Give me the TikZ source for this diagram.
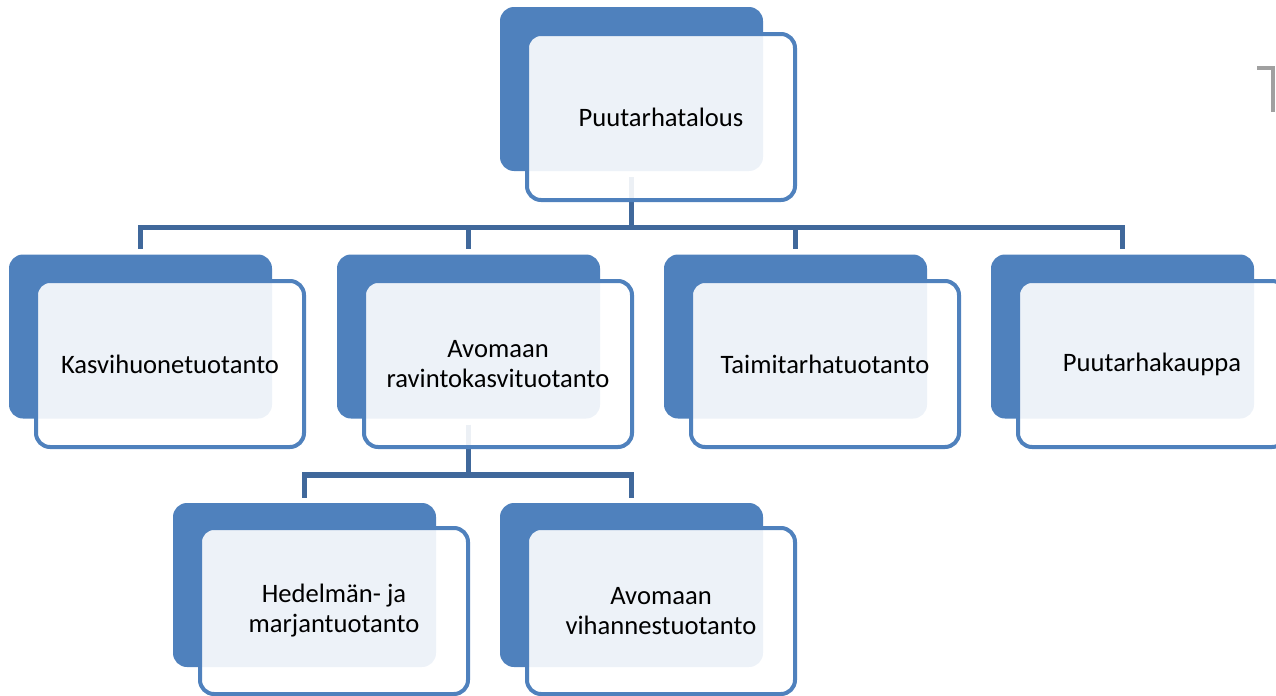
\documentclass[tikz,border=0pt]{standalone}
\usepackage{fontspec}
\setmainfont{Carlito}
\newcommand\orgfont{\fontsize{13.3}{15}\selectfont}
\definecolor{boxblue}{HTML}{4F81BD}
\definecolor{linkblue}{HTML}{40689B}
\definecolor{markgrey}{HTML}{A0A0A0}
\tikzset{
  backbox/.style={fill=boxblue, rounded corners=7pt, inner sep=0pt,
    minimum width=131.5pt, minimum height=82pt},
  frontbox/.style={draw=boxblue, line width=2pt, rounded corners=7pt,
    fill=white, fill opacity=0.9, text opacity=1, align=center,
    minimum width=134pt, minimum height=83pt, font=\orgfont},
  link/.style={draw=linkblue, line width=2.6pt, shorten <=3pt, shorten >=2.5pt}
}
\begin{document}
\begin{tikzpicture}[x=0.5pt, y=-0.5pt]
    \useasboundingbox (0,0) rectangle (1276,696);
    % back plates
    \foreach \name/\x/\y in {top/631.5/89, kas/140.5/336.5, avo/468.5/336.5,
        tai/795.5/336.5, kau/1122.5/336.5, hed/304.5/585, vih/631.5/585}
      \node[backbox] (\name-b) at (\x,\y) {};
    % links
    \foreach \child in {kas,avo,tai,kau}
      \draw[link] (top-b.south) -- ++(0,56) -| (\child-b.north);
    \foreach \child in {hed,vih}
      \draw[link] (avo-b.south) -- ++(0,56) -| (\child-b.north);
    % front boxes
    \node[frontbox] (top) at (661,117) {Puutarhatalous};
    \node[frontbox] (kas) at (170,364) {Kasvihuonetuotanto};
    \node[frontbox] (avo) at (498,364) {Avomaan\\ravintokasvituotanto};
    \node[frontbox] (tai) at (825,364) {Taimitarhatuotanto};
    \node[frontbox] (kau) at (1152,364) {Puutarhakauppa};
    \node[frontbox] (hed) at (334,611) {Hedelmän- ja\\marjantuotanto};
    \node[frontbox] (vih) at (661,611) {Avomaan\\vihannestuotanto};
    % grey mark at the edge
    \draw[markgrey, line width=1.8pt] (1257,68) -- (1273,68) -- (1273,112);
\end{tikzpicture}
\end{document}
